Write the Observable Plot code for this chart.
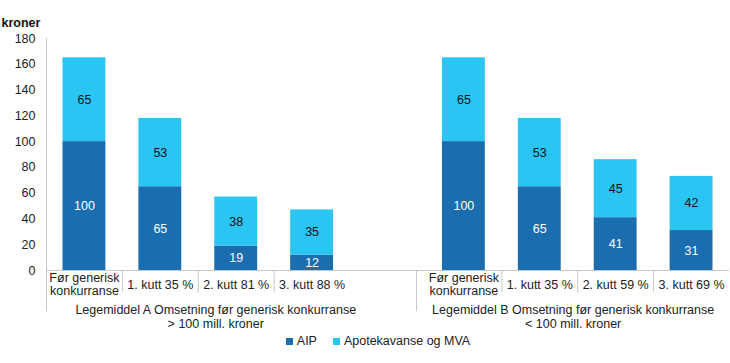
<!DOCTYPE html>
<html>
<head>
<meta charset="utf-8">
<script src="https://cdn.jsdelivr.net/npm/d3@7"></script>
<script src="https://cdn.jsdelivr.net/npm/@observablehq/plot@0.6"></script>
<style>
  body { margin: 0; background: #fff; font-family: Arial, "Liberation Sans", sans-serif; }
  #legend { display: flex; justify-content: center; gap: 16px; font-size: 12.5px; color: #222; padding-left: 26px; height: 16px; align-items: center; margin-top: 0px; }
  #legend span.sw { display: inline-block; width: 7px; height: 7px; margin-right: 4px; vertical-align: middle; }
  #legend .it { display: flex; align-items: center; }
</style>
</head>
<body>
<div id="chart"></div>
<div id="legend"></div>
<script>
// ---- data ----
const categoriesA = ["Før generisk\nkonkurranse", "1. kutt 35 %", "2. kutt 81 %", "3. kutt 88 %"];
const categoriesB = ["Før generisk\nkonkurranse", "1. kutt 35 %", "2. kutt 59 %", "3. kutt 69 %"];
const groups = [
  "Legemiddel A Omsetning før generisk konkurranse\n> 100 mill. kroner",
  "Legemiddel B Omsetning før generisk konkurranse\n< 100 mill. kroner"
];
const aipA = [100, 65, 19, 12];
const apotekA = [65, 53, 38, 35];
const aipB = [100, 65, 41, 31];
const apotekB = [65, 53, 45, 42];
const seriesNames = ["AIP", "Apotekavanse og MVA"];
const yTicks = [0, 20, 40, 60, 80, 100, 120, 140, 160, 180];
const colors = ["#1a6dae", "#2bc5f4"];

// ---- build table ----
const bars = [];
[[categoriesA, aipA, apotekA], [categoriesB, aipB, apotekB]].forEach(([cats, a, b], g) => {
  cats.forEach((c, i) => {
    const slot = g * 5 + i;
    bars.push({slot, cat: c, series: seriesNames[0], y1: 0, y2: a[i], v: a[i]});
    bars.push({slot, cat: c, series: seriesNames[1], y1: a[i], y2: a[i] + b[i], v: b[i]});
  });
});
const catRows = bars.filter(d => d.series === seriesNames[0]);
const groupBoundary = 4.875;
const minorDividers = [1, 2, 3, 6, 7, 8];
const groupRows = [{x: 2.23, label: groups[0]}, {x: 6.94, label: groups[1]}];

const font = "Arial, 'Liberation Sans', sans-serif";
const chart = Plot.plot({
  width: 730,
  height: 333,
  marginLeft: 46,
  marginRight: 1,
  marginTop: 38,
  marginBottom: 63,
  style: {fontFamily: font, fontSize: "12px", color: "#222", background: "#fff"},
  x: {type: "linear", domain: [0, 9], axis: null},
  y: {domain: [0, 180], axis: null},
  color: {domain: seriesNames, range: colors},
  marks: [
    Plot.axisY({ticks: yTicks, tickSize: 0, tickPadding: 11, label: null, fontSize: 12.5, fill: "#222"}),
    // axis line
    Plot.ruleX([0], {x: d => d, y1: 180, y2: -32, stroke: "#c8c8c8", strokeWidth: 1}),
    // group boundary
    Plot.ruleX([groupBoundary], {x: d => d, y1: 0, y2: -32, stroke: "#c8c8c8", strokeWidth: 1}),
    // minor dividers
    Plot.ruleX(minorDividers, {x: d => d, y1: 0, y2: -17.5, stroke: "#c8c8c8", strokeWidth: 1}),
    // bars
    Plot.rect(bars, {x1: "slot", x2: d => d.slot + 1, y1: "y1", y2: "y2", fill: "series", insetLeft: 16.5, insetRight: 16.5}),
    // baseline
    Plot.ruleY([0], {x1: 0, x2: 9, stroke: "#c8c8c8", strokeWidth: 1}),
    // values
    Plot.text(bars, {x: d => d.slot + 0.5, y: d => (d.y1 + d.y2) / 2, text: d => String(d.v),
      fill: d => d.series === seriesNames[0] ? "#fff" : "#111", fontSize: 12.5}),
    // category labels
    Plot.text(catRows, {x: d => d.slot + 0.5, text: "cat", frameAnchor: "bottom", dy: 14,
      lineAnchor: "middle", lineHeight: 1.02, fill: "#222", fontSize: 12.5}),
    // group labels
    Plot.text(groupRows, {x: "x", text: "label", frameAnchor: "bottom", dy: 46,
      lineAnchor: "middle", lineHeight: 1.17, fill: "#222", fontSize: 12.5}),
    // y unit label
    Plot.text(["kroner"], {frameAnchor: "top-left", dx: -45, dy: -20, textAnchor: "start",
      fontWeight: "bold", fill: "#111", fontSize: 12.5})
  ]
});
document.getElementById("chart").appendChild(chart);

const legend = document.getElementById("legend");
seriesNames.forEach((n, i) => {
  const it = document.createElement("div");
  it.className = "it";
  it.innerHTML = `<span class="sw" style="background:${colors[i]}"></span>${n}`;
  legend.appendChild(it);
});
</script>
</body>
</html>
